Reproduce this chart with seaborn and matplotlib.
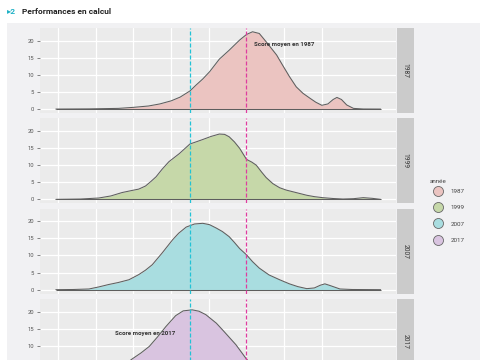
import matplotlib
matplotlib.use('Agg')
import numpy as np
import pandas as pd
import matplotlib.pyplot as plt
import seaborn as sns
from matplotlib.patches import Rectangle
from matplotlib.lines import Line2D

# ---------------- data ----------------
years = ['1987', '1999', '2007', '2017']

score_1987 = [-3, 40, 80, 100, 120, 135, 150, 162, 175, 183, 192, 201, 214, 227, 241, 250,
              258, 267, 276, 290, 298, 307, 316, 325, 334, 342, 350, 358, 365, 370, 376, 383,
              392, 405, 428]
dens_1987 = [0, 0.05, 0.2, 0.5, 0.9, 1.5, 2.4, 3.5, 5.3, 7.0, 8.8, 10.9, 14.6, 17.2, 20.2, 21.8,
             22.6, 22.1, 19.7, 15.8, 12.8, 9.5, 6.5, 4.6, 3.2, 2.0, 1.1, 1.5, 2.8, 3.4, 2.8, 1.2,
             0.2, 0.02, 0]

score_1999 = [-3, 30, 54, 70, 85, 98, 107, 116, 123, 130, 138, 147, 161, 175, 183, 192, 203,
              214, 221, 227, 234, 241, 250, 257, 263, 270, 276, 285, 294, 303, 312, 321, 330,
              340, 351, 365, 378, 392, 405, 417, 428]
dens_1999 = [0, 0.1, 0.4, 1.0, 2.0, 2.6, 3.0, 3.9, 5.2, 6.6, 8.8, 11.0, 13.4, 16.2, 16.8, 17.5,
             18.4, 19.1, 19.0, 18.3, 16.8, 14.9, 11.7, 10.9, 10.0, 8.0, 6.4, 4.6, 3.4, 2.7, 2.2,
             1.7, 1.2, 0.8, 0.5, 0.25, 0.1, 0.2, 0.5, 0.3, 0]

score_2007 = [-3, 20, 41, 54, 67, 80, 94, 107, 116, 125, 138, 152, 160, 170, 181, 192, 201,
              210, 218, 227, 234, 241, 250, 258, 267, 280, 294, 307, 318, 330, 340, 348, 354,
              361, 374, 390, 428]
dens_2007 = [0, 0.05, 0.2, 0.8, 1.5, 2.1, 2.9, 4.4, 5.7, 7.3, 10.7, 14.6, 16.5, 18.3, 19.2,
             19.4, 19.0, 18.0, 17.0, 15.5, 13.8, 12.0, 10.2, 8.2, 6.3, 4.3, 2.9, 1.7, 0.9, 0.3,
             0.5, 1.3, 1.7, 1.2, 0.2, 0.05, 0]

score_2017 = [-3, 30, 60, 80, 98, 110, 121, 132, 143, 156, 166, 178, 187, 196, 210, 218, 227,
              236, 250, 262, 275, 290, 310, 340, 380, 428]
dens_2017 = [0, 0.1, 1.0, 3.0, 6.1, 7.9, 9.8, 12.6, 15.6, 18.8, 20.2, 20.5, 20.1, 19.1, 16.6,
             14.7, 12.5, 10.3, 6.1, 3.5, 1.8, 0.8, 0.3, 0.1, 0.05, 0]

mean_1987 = 250
mean_2017 = 175
x_breaks = [0, 50, 100, 150, 200, 250, 300, 350]
y_breaks = [0, 5, 10, 15, 20]

fill_colors = ['#ebc4c1', '#c6d8a9', '#a9dde0', '#d9c4e0']
title_text = 'Performances en calcul'
label_1987 = 'Score moyen en 1987'
label_2017 = 'Score moyen en 2017'
legend_title = 'année'

frames = []
for yr, xs, ys in zip(years, [score_1987, score_1999, score_2007, score_2017],
                      [dens_1987, dens_1999, dens_2007, dens_2017]):
    frames.append(pd.DataFrame({'score': xs, 'densite': ys, 'annee': yr}))
df = pd.concat(frames, ignore_index=True)

# ---------------- style ----------------
sns.set_theme(style='white')
plt.rcParams['font.family'] = ['Roboto', 'DejaVu Sans']

W, H = 485, 360
fig = plt.figure(figsize=(W / 100, H / 100), dpi=100)
fig.patch.set_facecolor('white')
fig.patches.append(Rectangle((7 / W, 0), (480 - 7) / W, (H - 23) / H,
                             transform=fig.transFigure, facecolor='#f1f1f3',
                             edgecolor='none', zorder=-5))

cyan = '#22c3d6'
magenta = '#df3c9f'
dash = (0, (3.2, 1.6))

panel_h = 85
tops = [28, 118.3, 208.6, 298.9]
for i, yr in enumerate(years):
    bottom = (H - tops[i] - panel_h) / H
    ax = fig.add_axes([40 / W, bottom, 355.7 / W, panel_h / H])
    ax.set_facecolor('#ebebeb')
    sub = df[df['annee'] == yr]
    ax.fill_between(sub['score'], sub['densite'], 0, color=fill_colors[i], lw=0, zorder=2)
    sns.lineplot(data=sub, x='score', y='densite', ax=ax, color='#5e5e5e', lw=0.75,
                 estimator=None, sort=True, legend=False, zorder=3)
    ax.hlines(0, sub['score'].min(), sub['score'].max(), color='#5e5e5e', lw=0.75, zorder=3)
    ax.axvline(mean_2017, color=cyan, ls=dash, lw=0.9, zorder=4)
    ax.axvline(mean_1987, color=magenta, ls=dash, lw=0.9, zorder=4)

    ax.set_xlim(-24, 448)
    ax.set_ylim(-1.15, 23.7)
    ax.set_xticks(x_breaks)
    ax.set_yticks(y_breaks)
    ax.set_yticklabels([str(v) for v in y_breaks])
    ax.grid(True, color='white', lw=0.9)
    ax.set_axisbelow(True)
    for s in ax.spines.values():
        s.set_visible(False)
    ax.set_xlabel('')
    ax.set_ylabel('')
    ax.tick_params(axis='y', length=2.2, width=0.5, color='#555555', pad=2.0,
                   labelsize=4.2, labelcolor='#555555', left=True)
    ax.tick_params(axis='x', length=0, labelbottom=False)

    if yr == '1987':
        ax.text(300, 19.0, label_1987, ha='center', va='center', fontsize=4.4,
                fontweight='bold', color='#333333', zorder=5)
    if yr == '2017':
        ax.text(115, 13.7, label_2017, ha='center', va='center', fontsize=4.4,
                fontweight='bold', color='#333333', zorder=2.5)

    # strip
    sax = fig.add_axes([396.7 / W, bottom, 17.3 / W, panel_h / H])
    sax.set_facecolor('#cbcbcb')
    sax.set_xticks([])
    sax.set_yticks([])
    for s in sax.spines.values():
        s.set_visible(False)
    sax.text(0.5, 0.5, yr, rotation=-90, ha='center', va='center', fontsize=4.8,
             color='#333333', transform=sax.transAxes)

# legend
handles = [Line2D([], [], ls='none', marker='o', markersize=7.2,
                  markerfacecolor=c, markeredgecolor='#666666', markeredgewidth=0.6)
           for c in fill_colors]
leg = fig.legend(handles, years, loc='upper left',
                 bbox_to_anchor=(429 / W, 1 - 186 / H), frameon=False,
                 fontsize=4.5, labelspacing=1.75,
                 handletextpad=1.1, borderaxespad=0)
for t in leg.get_texts():
    t.set_color('#444444')
fig.text(430 / W, 1 - 181.7 / H, legend_title, color='#444444', fontsize=4.5,
         va='center', ha='left')

# title
fig.text(7 / W, 1 - 12 / H, '▸2', color='#1fb1c6', fontsize=6, fontweight='bold',
         va='center', ha='left')
fig.text(22 / W, 1 - 12 / H, title_text, color='#222222', fontsize=6, fontweight='bold',
         va='center', ha='left')

fig.savefig('out.png', dpi=100)
